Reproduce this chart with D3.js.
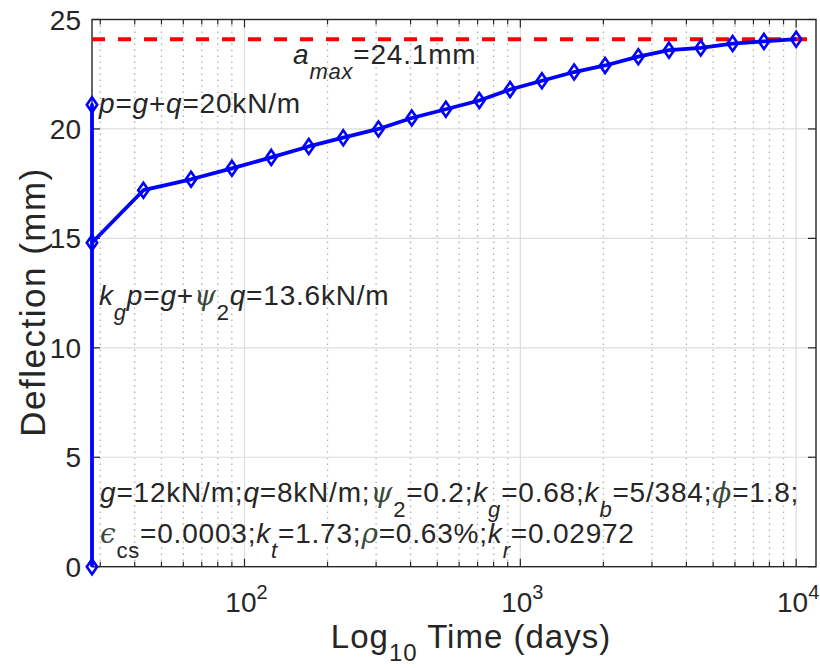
<!DOCTYPE html>
<head>
  <meta charset="UTF-8" />
  <script src="https://d3js.org/d3.v7.min.js"></script>
  <style>
    body { margin: 0; background: #fff; }
    text { font-family: Arial, "Liberation Sans", sans-serif; fill: #262626; }
  </style>
</head>
<body>
<script>
// data
var timeDays = [28, 28, 28, 43, 64, 90, 125, 171, 228, 306, 404, 537, 710, 918, 1197, 1567, 2029, 2677, 3458, 4508, 5883, 7640, 10000];
var deflection = [0, 21.1, 14.8, 17.2, 17.7, 18.2, 18.7, 19.2, 19.6, 20.0, 20.5, 20.9, 21.3, 21.8, 22.2, 22.6, 22.9, 23.3, 23.6, 23.7, 23.9, 24.0, 24.1];
var aMax = 24.1;
var aMaxSpan = [28, 11000];
var yTicks = [0, 5, 10, 15, 20, 25];
var xMajor = [100, 1000, 10000];
var xLabelExp = ["2", "3", "4"];

var width = 820, height = 668;
var mLeft = 92, mRight = 816, mTop = 19.5, mBottom = 566.7;

var svg = d3.select("body").append("svg").attr("width", width).attr("height", height);

var x = d3.scaleLog().domain([28, 11800]).range([mLeft, mRight]);
var y = d3.scaleLinear().domain([0, 25]).range([mBottom, mTop]);

// minor log values inside the domain
var xMinor = [];
[10, 100, 1000].forEach(function (dec) {
  for (var k = 2; k <= 9; k++) {
    var v = dec * k;
    if (v > 28 && v < 11800) xMinor.push(v);
  }
});

var grid = svg.append("g");
grid.selectAll(".minor").data(xMinor).enter().append("line")
  .attr("x1", d => x(d)).attr("x2", d => x(d)).attr("y1", mTop).attr("y2", mBottom)
  .attr("stroke", "#b0b0b0").attr("stroke-width", 1.3).attr("stroke-dasharray", "1.5,4.5");
grid.selectAll(".major").data(xMajor).enter().append("line")
  .attr("x1", d => x(d)).attr("x2", d => x(d)).attr("y1", mTop).attr("y2", mBottom)
  .attr("stroke", "#dcdcdc").attr("stroke-width", 1.2);
grid.selectAll(".ygrid").data(yTicks.slice(1, 5)).enter().append("line")
  .attr("x1", mLeft).attr("x2", mRight).attr("y1", d => y(d)).attr("y2", d => y(d))
  .attr("stroke", "#dcdcdc").attr("stroke-width", 1.2);

// ticks pointing inward on all four sides
var tk = svg.append("g").attr("stroke", "#262626").attr("stroke-width", 1.2);
xMinor.forEach(function (v) {
  tk.append("line").attr("x1", x(v)).attr("x2", x(v)).attr("y1", mBottom).attr("y2", mBottom - 5);
  tk.append("line").attr("x1", x(v)).attr("x2", x(v)).attr("y1", mTop).attr("y2", mTop + 5);
});
xMajor.forEach(function (v) {
  tk.append("line").attr("x1", x(v)).attr("x2", x(v)).attr("y1", mBottom).attr("y2", mBottom - 8);
  tk.append("line").attr("x1", x(v)).attr("x2", x(v)).attr("y1", mTop).attr("y2", mTop + 8);
});
yTicks.forEach(function (v) {
  tk.append("line").attr("x1", mLeft).attr("x2", mLeft + 8).attr("y1", y(v)).attr("y2", y(v));
  tk.append("line").attr("x1", mRight).attr("x2", mRight - 8).attr("y1", y(v)).attr("y2", y(v));
});

// frame
svg.append("rect").attr("x", mLeft).attr("y", mTop).attr("width", mRight - mLeft).attr("height", mBottom - mTop)
  .attr("fill", "none").attr("stroke", "#262626").attr("stroke-width", 1.4);

// tick labels
svg.selectAll(".ylab").data(yTicks).enter().append("text")
  .attr("x", mLeft - 11).attr("y", d => y(d) + 10).attr("text-anchor", "end")
  .style("font-size", "28px").text(d => d);

xMajor.forEach(function (v, i) {
  var t = svg.append("text").attr("x", x(v) + 2).attr("y", 612).attr("text-anchor", "middle").style("font-size", "28px");
  t.append("tspan").text("10");
  t.append("tspan").attr("dy", -13).style("font-size", "20px").text(xLabelExp[i]);
});

// axis labels
var xl = svg.append("text").attr("x", 471).attr("y", 648).attr("text-anchor", "middle")
  .style("font-size", "33px").style("letter-spacing", "1px");
xl.append("tspan").text("Log");
xl.append("tspan").attr("dy", 13).style("font-size", "24px").text("10");
xl.append("tspan").attr("dy", -13).text(" Time (days)");

svg.append("text").attr("transform", "translate(45,302) rotate(-90)").attr("text-anchor", "middle")
  .style("font-size", "35px").style("letter-spacing", "1.5px").text("Deflection (mm)");

// a_max dashed line
svg.append("line")
  .attr("x1", x(aMaxSpan[0])).attr("x2", x(aMaxSpan[1])).attr("y1", y(aMax)).attr("y2", y(aMax))
  .attr("stroke", "#ff0000").attr("stroke-width", 4).attr("stroke-dasharray", "13,13");

// deflection curve
var pts = timeDays.map((t, i) => [t, deflection[i]]);
svg.append("path").datum(pts)
  .attr("d", d3.line().x(d => x(d[0])).y(d => y(d[1])))
  .attr("fill", "none").attr("stroke", "#0000ff").attr("stroke-width", 3.8).attr("stroke-linejoin", "round");
svg.selectAll(".mk").data(pts).enter().append("path")
  .attr("transform", d => "translate(" + x(d[0]) + "," + y(d[1]) + ")")
  .attr("d", "M0,-7.5L5.2,0L0,7.5L-5.2,0Z")
  .attr("fill", "none").attr("stroke", "#0000ff").attr("stroke-width", 2.6);

// rich text annotations: each part [text, kind], kind i=italic, s=subscript, g=greek
function rich(xp, yp, parts, size) {
  var t = svg.append("text").attr("x", xp).attr("y", yp).style("font-size", size + "px").style("letter-spacing", "0.8px");
  var shift = 0;
  parts.forEach(function (p) {
    var s = t.append("tspan").text(p[0]);
    var k = p[1] || "";
    var want = (k.indexOf("s") >= 0) ? Math.round(size * 0.55) : 0;
    if (want !== shift) { s.attr("dy", want - shift); shift = want; }
    if (k.indexOf("s") >= 0) s.style("font-size", Math.round(size * 0.8) + "px");
    if (k.indexOf("i") >= 0) s.style("font-style", "italic");
    if (k.indexOf("g") >= 0) s.style("font-family", "'DejaVu Serif', serif").style("font-style", "italic").style("fill", "#3a4a3a");
  });
  return t;
}

var fs = 28;
rich(293, 64, [["a", "i"], ["max", "is"], ["=24.1mm"]], fs);
rich(99, 113, [["p", "i"], ["="], ["g", "i"], ["+"], ["q", "i"], ["=20kN/m"]], fs);
rich(99, 305, [["k", "i"], ["g", "is"], ["p", "i"], ["="], ["g", "i"], ["+"], ["\u03c8", "g"], ["2", "s"], ["q", "i"], ["=13.6kN/m"]], fs);
rich(100, 502, [["g", "i"], ["=12kN/m;"], ["q", "i"], ["=8kN/m;"], ["\u03c8", "g"], ["2", "s"], ["=0.2;"],
  ["k", "i"], ["g", "is"], ["=0.68;"], ["k", "i"], ["b", "is"], ["=5/384;"], ["\u03d5", "g"], ["=1.8;"]], fs);
rich(100, 543, [["\u03f5", "g"], ["cs", "s"], ["=0.0003;"], ["k", "i"], ["t", "is"], ["=1.73;"], ["\u03c1", "g"], ["=0.63%;"],
  ["k", "i"], ["r", "is"], ["=0.02972"]], fs);
</script>
</body>
